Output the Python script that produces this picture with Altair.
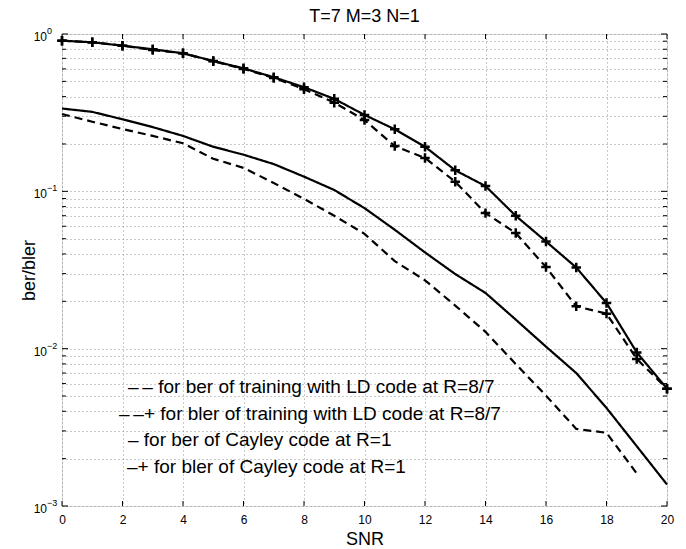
import altair as alt
import pandas as pd

# ---- data ----
snr = list(range(21))
cayley_bler = [0.907, 0.886, 0.843, 0.800, 0.754, 0.674, 0.605, 0.531, 0.459, 0.387, 0.306,
               0.248, 0.192, 0.136, 0.108, 0.0699, 0.048, 0.0328, 0.0195, 0.00947, 0.00557]
training_bler = [0.907, 0.886, 0.843, 0.791, 0.754, 0.672, 0.600, 0.526, 0.446, 0.366, 0.284,
                 0.194, 0.163, 0.115, 0.0727, 0.0543, 0.033, 0.0186, 0.0167, 0.0086, 0.00557]
cayley_ber = [0.336, 0.320, 0.287, 0.256, 0.225, 0.192, 0.171, 0.149, 0.124, 0.102, 0.0782,
              0.057, 0.0409, 0.0298, 0.0226, 0.0153, 0.0103, 0.0070, 0.0042, 0.0024, 0.00137]
training_ber = [0.310, 0.277, 0.249, 0.225, 0.202, 0.161, 0.141, 0.113, 0.0896, 0.0699, 0.0537,
                0.036, 0.0272, 0.0188, 0.0128, 0.00798, 0.00503, 0.00309, 0.00292, 0.00161]

series_names = ["training ber", "training bler", "cayley ber", "cayley bler"]
series_values = [training_ber, training_bler, cayley_ber, cayley_bler]
series_dashed = [True, True, False, False]
series_marker = [False, True, False, True]

title_text = "T=7 M=3 N=1"
legend_lines = ["–\u2009– for ber of training with LD code at R=8/7",
                "–\u2009–+ for bler of training with LD code at R=8/7",
                "– for ber of Cayley code at R=1",
                "–+ for bler of Cayley code at R=1"]

x_ticks = [0, 2, 4, 6, 8, 10, 12, 14, 16, 18, 20]
decades = [0.001, 0.01, 0.1, 1.0]
decade_exp = ["−3", "−2", "−1", "0"]
minor = [round(m * 10.0 ** e, 6) for e in (-3, -2, -1) for m in range(2, 10)]
y_grid = sorted(decades + minor)

rows = []
for name, vals, d, mk in zip(series_names, series_values, series_dashed, series_marker):
    for s, v in zip(snr, vals):
        rows.append({"snr": s, "val": v, "series": name,
                     "dash": "dashed" if d else "solid", "marker": mk})
df = pd.DataFrame(rows)

W, H = 605, 472
FONT = "Liberation Sans"

xs = alt.Scale(domain=[0, 20], nice=False, zero=False)
ys = alt.Scale(type="log", domain=[0.001, 1], nice=False)

x_axis = alt.Axis(values=x_ticks, grid=True, gridDash=[1, 3], gridColor="#777", gridWidth=0.8,
                  ticks=False, domain=False, labelFontSize=12, labelFont=FONT, labelColor="black",
                  labelPadding=8, title="SNR", titleFontSize=18, titleFont=FONT,
                  titleFontWeight="normal", titleColor="black", titlePadding=5, labelFlush=False)
y_axis = alt.Axis(values=y_grid, grid=True, gridDash=[1, 3], gridColor="#777", gridWidth=0.8,
                  ticks=False, domain=False, labels=False, title="ber/bler", titleFontSize=18,
                  titleFont=FONT, titleFontWeight="normal", titleColor="black", titlePadding=24)

X = alt.X("snr:Q", scale=xs, axis=x_axis)
Y = alt.Y("val:Q", scale=ys, axis=y_axis)

lines = alt.Chart(df).mark_line(color="black", strokeWidth=2.2).encode(
    x=X, y=Y, detail="series:N",
    strokeDash=alt.StrokeDash("dash:N", scale=alt.Scale(domain=["solid", "dashed"],
                                                       range=[[1, 0], [8, 5]]), legend=None),
)

pts = alt.Chart(df[df["marker"]]).mark_point(
    shape="M-1,0H1M0,-1V1", size=90, strokeWidth=2.5, color="black", filled=False, opacity=1
).encode(x=X, y=Y)

# inward ticks
xt = pd.DataFrame({"snr": x_ticks})
yt_major = pd.DataFrame({"val": decades})
yt_minor = pd.DataFrame({"val": minor})
tick_layers = [
    alt.Chart(xt).mark_rule(color="black").encode(x=X, y=alt.value(H), y2=alt.value(H - 5)),
    alt.Chart(xt).mark_rule(color="black").encode(x=X, y=alt.value(0), y2=alt.value(5)),
    alt.Chart(yt_major).mark_rule(color="black").encode(y=Y, x=alt.value(0), x2=alt.value(6)),
    alt.Chart(yt_major).mark_rule(color="black").encode(y=Y, x=alt.value(W), x2=alt.value(W - 6)),
    alt.Chart(yt_minor).mark_rule(color="black").encode(y=Y, x=alt.value(0), x2=alt.value(4)),
    alt.Chart(yt_minor).mark_rule(color="black").encode(y=Y, x=alt.value(W), x2=alt.value(W - 4)),
]

# y tick labels 10^k
ylab = pd.DataFrame({"val": decades, "exp": decade_exp})
ten = alt.Chart(ylab).mark_text(align="right", baseline="middle", fontSize=12, font=FONT,
                                dy=3, color="black").encode(
    y=Y, x=alt.value(-15), text=alt.value("10"))
expo = alt.Chart(ylab).mark_text(align="left", baseline="middle", fontSize=9, font=FONT,
                                 dy=-3, color="black").encode(
    y=Y, x=alt.value(-15), text="exp:N")

# title as text
title = alt.Chart(pd.DataFrame({"t": [title_text]})).mark_text(
    align="center", baseline="alphabetic", fontSize=18, font=FONT, color="black"
).encode(x=alt.value(W / 2), y=alt.value(-12), text="t:N")

# legend text block
leg_x = [66, 57, 66, 65]
leg_y = [353, 380, 406, 433]
leg_layers = []
for t, lx, ly in zip(legend_lines, leg_x, leg_y):
    leg_layers.append(
        alt.Chart(pd.DataFrame({"t": [t]})).mark_text(
            align="left", baseline="middle", fontSize=19, font=FONT, color="black"
        ).encode(x=alt.value(lx), y=alt.value(ly), text="t:N")
    )

chart = alt.layer(lines, pts, *tick_layers, ten, expo, title, *leg_layers).properties(
    width=W, height=H,
    autosize=alt.AutoSizeParams(type="none"),
    padding={"left": 54, "top": 26, "right": 11, "bottom": 43},
).configure_view(stroke="black", strokeWidth=1).configure(background="white")

chart.save("out.html", embed_options={"renderer": "svg", "actions": False})
